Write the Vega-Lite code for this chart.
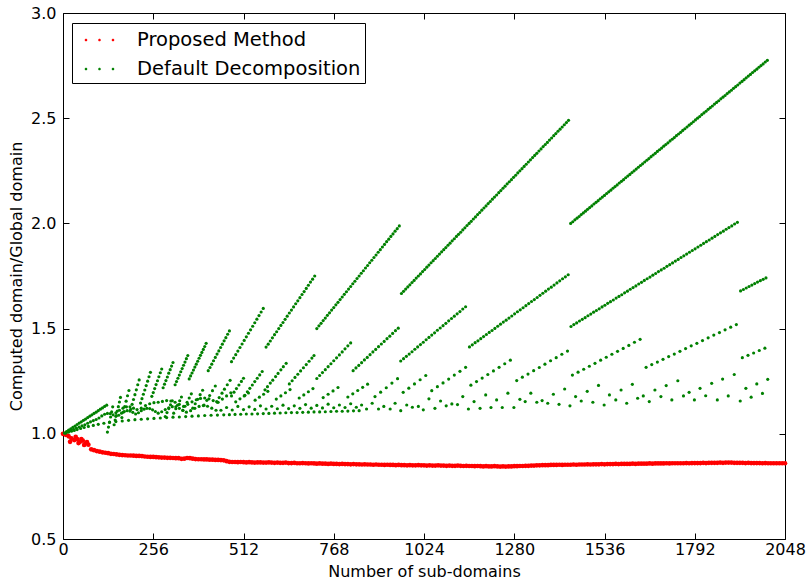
{
"$schema":"https://vega.github.io/schema/vega-lite/v6.json",
"width":722,"height":526,
"autosize":{"type":"none"},
"padding":{"left":63,"top":13,"right":23,"bottom":44},
"background":"white",
"config":{
"view":{"stroke":"black","strokeWidth":1},
"font":"DejaVu Sans",
"axis":{"labelFont":"DejaVu Sans","titleFont":"DejaVu Sans","labelFontSize":16,"titleFontSize":16,"titleFontWeight":"normal","labelColor":"black","titleColor":"black","tickColor":"black","tickSize":-6,"tickWidth":1,"domain":false,"grid":false,"labelFlush":false}
},
"datasets":{
"r":[{"n":0,"v":1.0},{"n":8,"v":0.995},{"n":16,"v":0.988},{"n":20,"v":0.962},{"n":24,"v":0.978},{"n":32,"v":0.97},{"n":36,"v":0.985},{"n":40,"v":0.975},{"n":44,"v":0.956},{"n":48,"v":0.962},{"n":52,"v":0.975},{"n":56,"v":0.968},{"n":60,"v":0.947},{"n":64,"v":0.955},{"n":68,"v":0.96},{"n":72,"v":0.948},{"n":80,"v":0.926},{"n":88,"v":0.922},{"n":96,"v":0.918},{"n":104,"v":0.915},{"n":112,"v":0.912},{"n":120,"v":0.91},{"n":128,"v":0.908},{"n":136,"v":0.905},{"n":144,"v":0.904},{"n":152,"v":0.902},{"n":160,"v":0.9},{"n":168,"v":0.899},{"n":176,"v":0.898},{"n":184,"v":0.897},{"n":192,"v":0.897},{"n":200,"v":0.896},{"n":208,"v":0.895},{"n":216,"v":0.895},{"n":224,"v":0.894},{"n":232,"v":0.892},{"n":240,"v":0.891},{"n":248,"v":0.89},{"n":256,"v":0.89},{"n":264,"v":0.889},{"n":272,"v":0.888},{"n":280,"v":0.887},{"n":288,"v":0.887},{"n":296,"v":0.886},{"n":304,"v":0.886},{"n":312,"v":0.885},{"n":320,"v":0.884},{"n":328,"v":0.884},{"n":336,"v":0.881},{"n":344,"v":0.882},{"n":352,"v":0.885},{"n":360,"v":0.884},{"n":368,"v":0.882},{"n":376,"v":0.88},{"n":384,"v":0.879},{"n":392,"v":0.879},{"n":400,"v":0.878},{"n":408,"v":0.878},{"n":416,"v":0.877},{"n":424,"v":0.877},{"n":432,"v":0.876},{"n":440,"v":0.876},{"n":448,"v":0.875},{"n":456,"v":0.874},{"n":464,"v":0.87},{"n":472,"v":0.867},
{"n":480,"v":0.866},{"n":488,"v":0.866},{"n":496,"v":0.865},{"n":504,"v":0.866},{"n":512,"v":0.865},{"n":520,"v":0.864},{"n":528,"v":0.865},{"n":536,"v":0.864},{"n":544,"v":0.863},{"n":552,"v":0.864},{"n":560,"v":0.864},{"n":568,"v":0.863},{"n":576,"v":0.863},{"n":584,"v":0.864},{"n":592,"v":0.863},{"n":600,"v":0.862},{"n":608,"v":0.863},{"n":616,"v":0.862},{"n":624,"v":0.862},{"n":632,"v":0.863},{"n":640,"v":0.861},{"n":648,"v":0.861},{"n":656,"v":0.862},{"n":664,"v":0.86},{"n":672,"v":0.86},{"n":680,"v":0.861},{"n":688,"v":0.86},{"n":696,"v":0.859},{"n":704,"v":0.86},{"n":712,"v":0.859},{"n":720,"v":0.858},{"n":728,"v":0.859},{"n":736,"v":0.858},{"n":744,"v":0.858},{"n":752,"v":0.857},{"n":760,"v":0.858},{"n":768,"v":0.857},{"n":776,"v":0.857},{"n":784,"v":0.856},{"n":792,"v":0.857},{"n":800,"v":0.856},{"n":808,"v":0.856},{"n":816,"v":0.855},{"n":824,"v":0.856},{"n":832,"v":0.855},{"n":840,"v":0.855},{"n":848,"v":0.854},{"n":856,"v":0.855},{"n":864,"v":0.854},{"n":872,"v":0.854},{"n":880,"v":0.853},{"n":888,"v":0.854},{"n":896,"v":0.853},{"n":904,"v":0.853},{"n":912,"v":0.852},{"n":920,"v":0.853},{"n":928,"v":0.852},{"n":936,"v":0.852},{"n":944,"v":0.851},{"n":952,"v":0.852},{"n":960,"v":0.851},{"n":968,"v":0.851},{"n":976,"v":0.85},{"n":984,"v":0.851},{"n":992,"v":0.85},{"n":1000,"v":0.85},{"n":1008,"v":0.851},{"n":1016,"v":0.85},{"n":1024,"v":0.85},{"n":1032,"v":0.849},{"n":1040,"v":0.85},{"n":1048,"v":0.849},{"n":1056,"v":0.849},{"n":1064,"v":0.85},{"n":1072,"v":0.849},{"n":1080,"v":0.849},{"n":1088,"v":0.848},{"n":1096,"v":0.849},{"n":1104,"v":0.848},{"n":1112,"v":0.848},{"n":1120,"v":0.849},{"n":1128,"v":0.848},{"n":1136,"v":0.847},{"n":1144,"v":0.848},{"n":1152,"v":0.847},{"n":1160,"v":0.847},{"n":1168,"v":0.846},{"n":1176,"v":0.847},{"n":1184,"v":0.846},{"n":1192,"v":0.845},{"n":1200,"v":0.846},{"n":1208,"v":0.845},{"n":1216,"v":0.845},{"n":1224,"v":0.846},{"n":1232,"v":0.845},{"n":1240,"v":0.844},{"n":1248,"v":0.845},{"n":1256,"v":0.844},{"n":1264,"v":0.845},{"n":1272,"v":0.845},{"n":1280,"v":0.846},{"n":1288,"v":0.846},{"n":1296,"v":0.847},{"n":1304,"v":0.847},{"n":1312,"v":0.848},{"n":1320,"v":0.848},{"n":1328,"v":0.849},{"n":1336,"v":0.849},{"n":1344,"v":0.85},{"n":1352,"v":0.85},{"n":1360,"v":0.851},{"n":1368,"v":0.851},{"n":1376,"v":0.851},{"n":1384,"v":0.852},{"n":1392,"v":0.852},{"n":1400,"v":0.852},{"n":1408,"v":0.853},{"n":1416,"v":0.852},{"n":1424,"v":0.853},{"n":1432,"v":0.853},{"n":1440,"v":0.853},{"n":1448,"v":0.854},{"n":1456,"v":0.853},{"n":1464,"v":0.854},{"n":1472,"v":0.854},{"n":1480,"v":0.854},{"n":1488,"v":0.855},{"n":1496,"v":0.854},{"n":1504,"v":0.855},{"n":1512,"v":0.855},{"n":1520,"v":0.855},{"n":1528,"v":0.856},{"n":1536,"v":0.855},{"n":1544,"v":0.856},{"n":1552,"v":0.856},{"n":1560,"v":0.856},{"n":1568,"v":0.857},{"n":1576,"v":0.856},{"n":1584,"v":0.857},{"n":1592,"v":0.857},{"n":1600,"v":0.857},{"n":1608,"v":0.857},{"n":1616,"v":0.858},{"n":1624,"v":0.857},{"n":1632,"v":0.858},{"n":1640,"v":0.858},{"n":1648,"v":0.858},{"n":1656,"v":0.858},{"n":1664,"v":0.859},{"n":1672,"v":0.858},{"n":1680,"v":0.859},{"n":1688,"v":0.859},{"n":1696,"v":0.859},{"n":1704,"v":0.859},{"n":1712,"v":0.86},{"n":1720,"v":0.859},{"n":1728,"v":0.86},{"n":1736,"v":0.86},{"n":1744,"v":0.86},{"n":1752,"v":0.86},{"n":1760,"v":0.86},{"n":1768,"v":0.861},{"n":1776,"v":0.86},{"n":1784,"v":0.861},{"n":1792,"v":0.861},{"n":1800,"v":0.861},{"n":1808,"v":0.861},{"n":1816,"v":0.862},{"n":1824,"v":0.861},{"n":1832,"v":0.862},{"n":1840,"v":0.862},{"n":1848,"v":0.862},{"n":1856,"v":0.862},{"n":1864,"v":0.863},{"n":1872,"v":0.862},{"n":1880,"v":0.863},{"n":1888,"v":0.863},{"n":1896,"v":0.863},{"n":1904,"v":0.862},{"n":1912,"v":0.862},{"n":1920,"v":0.862},{"n":1928,"v":0.862},{"n":1936,"v":0.861},{"n":1944,"v":0.862},{"n":1952,"v":0.861},{"n":1960,"v":0.861},{"n":1968,"v":0.861},{"n":1976,"v":0.861},{"n":1984,"v":0.86},{"n":1992,"v":0.861},{"n":2000,"v":0.86},{"n":2008,"v":0.86},{"n":2016,"v":0.86},{"n":2024,"v":0.86},{"n":2032,"v":0.86},{"n":2040,"v":0.86},{"n":2048,"v":0.86}],
"g":[
{"n":4,"v":1.004},{"n":10,"v":1.011},{"n":16,"v":1.018},{"n":22,"v":1.024},{"n":28,"v":1.031},{"n":34,"v":1.037},{"n":40,"v":1.044},{"n":46,"v":1.051},{"n":52,"v":1.057},{"n":58,"v":1.064},{"n":64,"v":1.07},{"n":70,"v":1.077},{"n":76,"v":1.084},{"n":82,"v":1.09},{"n":88,"v":1.097},{"n":94,"v":1.103},{"n":100,"v":1.11},{"n":106,"v":1.117},{"n":112,"v":1.123},{"n":118,"v":1.13},{"n":124,"v":1.136},
{"n":6,"v":1.004},{"n":14,"v":1.01},{"n":22,"v":1.016},{"n":30,"v":1.021},{"n":38,"v":1.027},{"n":46,"v":1.032},{"n":54,"v":1.038},{"n":62,"v":1.043},{"n":70,"v":1.05},{"n":78,"v":1.057},{"n":86,"v":1.063},{"n":94,"v":1.068},{"n":102,"v":1.075},{"n":110,"v":1.085},{"n":118,"v":1.093},{"n":126,"v":1.097},{"n":134,"v":1.096},{"n":142,"v":1.09},{"n":150,"v":1.083},{"n":158,"v":1.088},{"n":166,"v":1.098},{"n":174,"v":1.106},{"n":182,"v":1.11},{"n":190,"v":1.108},{"n":198,"v":1.102},{"n":206,"v":1.094},{"n":214,"v":1.1},{"n":222,"v":1.11},{"n":230,"v":1.117},{"n":238,"v":1.121},{"n":246,"v":1.12},{"n":254,"v":1.114},{"n":262,"v":1.106},{"n":270,"v":1.098},{"n":280,"v":1.105},{"n":290,"v":1.115},{"n":300,"v":1.124},{"n":310,"v":1.129},{"n":320,"v":1.128},{"n":330,"v":1.121},{"n":340,"v":1.112},{"n":350,"v":1.103},{"n":362,"v":1.11},{"n":374,"v":1.121},{"n":386,"v":1.13},{"n":398,"v":1.134},{"n":410,"v":1.131},{"n":422,"v":1.122},{"n":434,"v":1.112},
{"n":150,"v":1.1},{"n":160,"v":1.112},{"n":170,"v":1.122},{"n":180,"v":1.128},{"n":190,"v":1.128},{"n":200,"v":1.122},{"n":210,"v":1.115},{"n":222,"v":1.122},{"n":234,"v":1.134},{"n":246,"v":1.143},{"n":258,"v":1.148},{"n":270,"v":1.15},{"n":282,"v":1.154},{"n":294,"v":1.158},{"n":306,"v":1.156},{"n":318,"v":1.15},{"n":330,"v":1.14},{"n":342,"v":1.13},{"n":354,"v":1.14},{"n":366,"v":1.152},{"n":378,"v":1.162},{"n":390,"v":1.168},{"n":402,"v":1.17},{"n":414,"v":1.166},{"n":426,"v":1.158},{"n":438,"v":1.15},
{"n":8,"v":1.004},{"n":16,"v":1.008},{"n":24,"v":1.012},{"n":32,"v":1.016},{"n":40,"v":1.02},{"n":50,"v":1.025},{"n":60,"v":1.03},{"n":72,"v":1.035},{"n":86,"v":1.04},{"n":100,"v":1.045},{"n":116,"v":1.05},{"n":132,"v":1.054},{"n":150,"v":1.058},{"n":168,"v":1.061},{"n":186,"v":1.064},{"n":204,"v":1.067},{"n":222,"v":1.069},{"n":240,"v":1.071},{"n":258,"v":1.073},{"n":276,"v":1.075},{"n":294,"v":1.077},{"n":312,"v":1.079},{"n":330,"v":1.08},{"n":348,"v":1.082},{"n":366,"v":1.084},{"n":384,"v":1.085},{"n":402,"v":1.087},{"n":420,"v":1.088},{"n":438,"v":1.089},{"n":456,"v":1.09},{"n":472,"v":1.091},{"n":488,"v":1.092},{"n":504,"v":1.093},{"n":520,"v":1.094},{"n":536,"v":1.094},{"n":552,"v":1.095},{"n":568,"v":1.096},{"n":584,"v":1.097},{"n":600,"v":1.098},{"n":616,"v":1.099},{"n":632,"v":1.1},{"n":648,"v":1.101},{"n":664,"v":1.101},{"n":680,"v":1.102},{"n":696,"v":1.103},{"n":712,"v":1.104},{"n":728,"v":1.104},{"n":744,"v":1.105},{"n":760,"v":1.106},{"n":776,"v":1.107},{"n":792,"v":1.107},{"n":808,"v":1.108},{"n":824,"v":1.109},{"n":840,"v":1.11},
{"n":126,"v":1.008},{"n":129,"v":1.032},{"n":132,"v":1.056},{"n":135,"v":1.08},{"n":138,"v":1.104},{"n":141,"v":1.128},
{"n":145,"v":1.043},{"n":148,"v":1.065},{"n":151,"v":1.086},{"n":154,"v":1.108},{"n":157,"v":1.129},{"n":160,"v":1.151},{"n":163,"v":1.173},
{"n":167,"v":1.077},{"n":171,"v":1.103},{"n":175,"v":1.129},{"n":179,"v":1.155},{"n":183,"v":1.181},{"n":187,"v":1.206},
{"n":192,"v":1.116},{"n":196,"v":1.14},{"n":200,"v":1.163},{"n":204,"v":1.186},{"n":208,"v":1.209},{"n":212,"v":1.233},{"n":216,"v":1.256},
{"n":220,"v":1.146},{"n":224,"v":1.167},{"n":228,"v":1.188},{"n":232,"v":1.208},{"n":236,"v":1.229},{"n":240,"v":1.25},{"n":244,"v":1.271},{"n":248,"v":1.292},
{"n":252,"v":1.178},{"n":256,"v":1.196},{"n":260,"v":1.215},{"n":264,"v":1.234},{"n":268,"v":1.252},{"n":272,"v":1.271},{"n":276,"v":1.29},{"n":280,"v":1.308},
{"n":284,"v":1.219},{"n":288,"v":1.236},{"n":292,"v":1.253},{"n":296,"v":1.27},{"n":300,"v":1.288},{"n":304,"v":1.305},{"n":308,"v":1.322},{"n":312,"v":1.339},
{"n":318,"v":1.233},{"n":322,"v":1.248},{"n":326,"v":1.264},{"n":330,"v":1.279},{"n":334,"v":1.295},{"n":338,"v":1.31},{"n":342,"v":1.326},{"n":346,"v":1.341},{"n":350,"v":1.357},{"n":354,"v":1.372},
{"n":358,"v":1.261},{"n":362,"v":1.275},{"n":366,"v":1.289},{"n":370,"v":1.303},{"n":374,"v":1.317},{"n":378,"v":1.331},{"n":382,"v":1.345},{"n":386,"v":1.359},{"n":390,"v":1.373},{"n":394,"v":1.387},{"n":398,"v":1.401},{"n":402,"v":1.415},{"n":406,"v":1.43},
{"n":412,"v":1.3},{"n":417,"v":1.315},{"n":422,"v":1.331},{"n":427,"v":1.347},{"n":432,"v":1.363},{"n":437,"v":1.379},{"n":442,"v":1.394},{"n":447,"v":1.41},{"n":452,"v":1.426},{"n":457,"v":1.442},{"n":462,"v":1.457},{"n":467,"v":1.473},{"n":472,"v":1.489},
{"n":478,"v":1.343},{"n":484,"v":1.36},{"n":490,"v":1.376},{"n":496,"v":1.393},{"n":502,"v":1.41},{"n":508,"v":1.427},{"n":514,"v":1.444},{"n":520,"v":1.461},{"n":526,"v":1.478},{"n":532,"v":1.494},{"n":538,"v":1.511},{"n":544,"v":1.528},{"n":550,"v":1.545},{"n":556,"v":1.562},{"n":562,"v":1.579},{"n":568,"v":1.596},
{"n":576,"v":1.412},{"n":582,"v":1.426},{"n":588,"v":1.441},{"n":594,"v":1.456},{"n":600,"v":1.471},{"n":606,"v":1.485},{"n":612,"v":1.5},{"n":618,"v":1.515},{"n":624,"v":1.529},{"n":630,"v":1.544},{"n":636,"v":1.559},{"n":642,"v":1.574},{"n":648,"v":1.588},{"n":654,"v":1.603},{"n":660,"v":1.618},{"n":666,"v":1.632},{"n":672,"v":1.647},{"n":678,"v":1.662},{"n":684,"v":1.676},{"n":690,"v":1.691},{"n":696,"v":1.706},{"n":702,"v":1.721},{"n":708,"v":1.735},{"n":714,"v":1.75},
{"n":720,"v":1.5},{"n":726,"v":1.513},{"n":732,"v":1.525},{"n":738,"v":1.538},{"n":744,"v":1.55},{"n":750,"v":1.563},{"n":756,"v":1.575},{"n":762,"v":1.588},{"n":768,"v":1.6},{"n":774,"v":1.613},{"n":780,"v":1.625},{"n":786,"v":1.638},{"n":792,"v":1.65},{"n":798,"v":1.663},{"n":804,"v":1.675},{"n":810,"v":1.688},{"n":816,"v":1.7},{"n":822,"v":1.713},{"n":828,"v":1.725},{"n":834,"v":1.738},{"n":840,"v":1.75},{"n":846,"v":1.763},{"n":852,"v":1.775},{"n":858,"v":1.788},{"n":864,"v":1.8},{"n":870,"v":1.813},{"n":876,"v":1.825},{"n":882,"v":1.838},{"n":888,"v":1.85},{"n":894,"v":1.863},{"n":900,"v":1.875},{"n":906,"v":1.888},{"n":912,"v":1.9},{"n":918,"v":1.913},{"n":924,"v":1.925},{"n":930,"v":1.938},{"n":936,"v":1.95},{"n":942,"v":1.963},{"n":948,"v":1.975},{"n":954,"v":1.988},
{"n":960,"v":1.667},{"n":966,"v":1.677},{"n":972,"v":1.688},{"n":978,"v":1.698},{"n":984,"v":1.708},{"n":990,"v":1.719},{"n":996,"v":1.729},{"n":1002,"v":1.74},{"n":1008,"v":1.75},{"n":1014,"v":1.76},{"n":1020,"v":1.771},{"n":1026,"v":1.781},{"n":1032,"v":1.792},{"n":1038,"v":1.802},{"n":1044,"v":1.813},{"n":1050,"v":1.823},
{"n":1056,"v":1.833},{"n":1062,"v":1.844},{"n":1068,"v":1.854},{"n":1074,"v":1.865},{"n":1080,"v":1.875},{"n":1086,"v":1.885},{"n":1092,"v":1.896},{"n":1098,"v":1.906},{"n":1104,"v":1.917},{"n":1110,"v":1.927},{"n":1116,"v":1.938},{"n":1122,"v":1.948},{"n":1128,"v":1.958},{"n":1134,"v":1.969},{"n":1140,"v":1.979},{"n":1146,"v":1.99},
{"n":1152,"v":2.0},{"n":1158,"v":2.01},{"n":1164,"v":2.021},{"n":1170,"v":2.031},{"n":1176,"v":2.042},{"n":1182,"v":2.052},{"n":1188,"v":2.063},{"n":1194,"v":2.073},{"n":1200,"v":2.083},{"n":1206,"v":2.094},{"n":1212,"v":2.104},{"n":1218,"v":2.115},{"n":1224,"v":2.125},{"n":1230,"v":2.135},{"n":1236,"v":2.146},{"n":1242,"v":2.156},
{"n":1248,"v":2.167},{"n":1254,"v":2.177},{"n":1260,"v":2.188},{"n":1266,"v":2.198},{"n":1272,"v":2.208},{"n":1278,"v":2.219},{"n":1284,"v":2.229},{"n":1290,"v":2.24},{"n":1296,"v":2.25},{"n":1302,"v":2.26},{"n":1308,"v":2.271},{"n":1314,"v":2.281},{"n":1320,"v":2.292},{"n":1326,"v":2.302},{"n":1332,"v":2.313},{"n":1338,"v":2.323},
{"n":1344,"v":2.333},{"n":1350,"v":2.344},{"n":1356,"v":2.354},{"n":1362,"v":2.365},{"n":1368,"v":2.375},{"n":1374,"v":2.385},{"n":1380,"v":2.396},{"n":1386,"v":2.406},{"n":1392,"v":2.417},{"n":1398,"v":2.427},{"n":1404,"v":2.438},{"n":1410,"v":2.448},{"n":1416,"v":2.458},{"n":1422,"v":2.469},{"n":1428,"v":2.479},{"n":1434,"v":2.49},
{"n":1440,"v":2.0},{"n":1446,"v":2.008},{"n":1452,"v":2.017},{"n":1458,"v":2.025},{"n":1464,"v":2.033},{"n":1470,"v":2.042},{"n":1476,"v":2.05},{"n":1482,"v":2.058},{"n":1488,"v":2.067},{"n":1494,"v":2.075},{"n":1500,"v":2.083},{"n":1506,"v":2.092},
{"n":1512,"v":2.1},{"n":1518,"v":2.108},{"n":1524,"v":2.117},{"n":1530,"v":2.125},{"n":1536,"v":2.133},{"n":1542,"v":2.142},{"n":1548,"v":2.15},{"n":1554,"v":2.158},{"n":1560,"v":2.167},{"n":1566,"v":2.175},{"n":1572,"v":2.183},{"n":1578,"v":2.192},
{"n":1584,"v":2.2},{"n":1590,"v":2.208},{"n":1596,"v":2.217},{"n":1602,"v":2.225},{"n":1608,"v":2.233},{"n":1614,"v":2.242},{"n":1620,"v":2.25},{"n":1626,"v":2.258},{"n":1632,"v":2.267},{"n":1638,"v":2.275},{"n":1644,"v":2.283},{"n":1650,"v":2.292},
{"n":1656,"v":2.3},{"n":1662,"v":2.308},{"n":1668,"v":2.317},{"n":1674,"v":2.325},{"n":1680,"v":2.333},{"n":1686,"v":2.342},{"n":1692,"v":2.35},{"n":1698,"v":2.358},{"n":1704,"v":2.367},{"n":1710,"v":2.375},{"n":1716,"v":2.383},{"n":1722,"v":2.392},
{"n":1728,"v":2.4},{"n":1734,"v":2.408},{"n":1740,"v":2.417},{"n":1746,"v":2.425},{"n":1752,"v":2.433},{"n":1758,"v":2.442},{"n":1764,"v":2.45},{"n":1770,"v":2.458},{"n":1776,"v":2.467},{"n":1782,"v":2.475},{"n":1788,"v":2.483},{"n":1794,"v":2.492},
{"n":1800,"v":2.5},{"n":1806,"v":2.508},{"n":1812,"v":2.517},{"n":1818,"v":2.525},{"n":1824,"v":2.533},{"n":1830,"v":2.542},{"n":1836,"v":2.55},{"n":1842,"v":2.558},{"n":1848,"v":2.567},{"n":1854,"v":2.575},{"n":1860,"v":2.583},{"n":1866,"v":2.592},
{"n":1872,"v":2.6},{"n":1878,"v":2.608},{"n":1884,"v":2.617},{"n":1890,"v":2.625},{"n":1896,"v":2.633},{"n":1902,"v":2.642},{"n":1908,"v":2.65},{"n":1914,"v":2.658},{"n":1920,"v":2.667},{"n":1926,"v":2.675},{"n":1932,"v":2.683},{"n":1938,"v":2.692},
{"n":1944,"v":2.7},{"n":1950,"v":2.708},{"n":1956,"v":2.717},{"n":1962,"v":2.725},{"n":1968,"v":2.733},{"n":1974,"v":2.742},{"n":1980,"v":2.75},{"n":1986,"v":2.758},{"n":1992,"v":2.767},{"n":1998,"v":2.775},
{"n":290,"v":1.082},{"n":295,"v":1.101},{"n":300,"v":1.12},{"n":305,"v":1.138},{"n":310,"v":1.157},
{"n":314,"v":1.098},{"n":320,"v":1.119},{"n":325,"v":1.136},{"n":331,"v":1.157},{"n":336,"v":1.175},
{"n":340,"v":1.111},{"n":346,"v":1.131},{"n":352,"v":1.15},{"n":358,"v":1.17},{"n":364,"v":1.19},
{"n":368,"v":1.122},{"n":375,"v":1.143},{"n":382,"v":1.164},{"n":389,"v":1.186},{"n":396,"v":1.207},
{"n":400,"v":1.136},{"n":408,"v":1.159},{"n":416,"v":1.182},{"n":424,"v":1.205},{"n":432,"v":1.227},
{"n":436,"v":1.153},{"n":443,"v":1.172},{"n":451,"v":1.193},{"n":458,"v":1.212},{"n":466,"v":1.233},{"n":474,"v":1.254},
{"n":478,"v":1.18},{"n":485,"v":1.198},{"n":492,"v":1.215},{"n":499,"v":1.232},{"n":506,"v":1.249},{"n":512,"v":1.264},
{"n":516,"v":1.183},{"n":523,"v":1.2},{"n":530,"v":1.216},{"n":537,"v":1.232},{"n":544,"v":1.248},{"n":551,"v":1.264},{"n":558,"v":1.28},{"n":565,"v":1.296},
{"n":573,"v":1.209},{"n":580,"v":1.224},{"n":588,"v":1.241},{"n":595,"v":1.255},{"n":603,"v":1.272},{"n":610,"v":1.287},{"n":618,"v":1.304},{"n":625,"v":1.319},{"n":633,"v":1.335},
{"n":642,"v":1.237},{"n":650,"v":1.252},{"n":658,"v":1.268},{"n":666,"v":1.283},{"n":674,"v":1.299},{"n":682,"v":1.314},{"n":690,"v":1.329},{"n":698,"v":1.345},{"n":706,"v":1.36},{"n":712,"v":1.372},
{"n":720,"v":1.263},{"n":728,"v":1.277},{"n":736,"v":1.291},{"n":744,"v":1.305},{"n":752,"v":1.319},{"n":760,"v":1.333},{"n":768,"v":1.347},{"n":776,"v":1.361},{"n":784,"v":1.375},{"n":792,"v":1.389},{"n":800,"v":1.404},{"n":808,"v":1.418},{"n":816,"v":1.432},
{"n":823,"v":1.3},{"n":831,"v":1.313},{"n":839,"v":1.325},{"n":847,"v":1.338},{"n":855,"v":1.351},{"n":863,"v":1.363},{"n":871,"v":1.376},{"n":879,"v":1.389},{"n":887,"v":1.401},{"n":895,"v":1.414},{"n":903,"v":1.427},{"n":911,"v":1.439},{"n":919,"v":1.452},{"n":927,"v":1.464},{"n":935,"v":1.477},{"n":943,"v":1.49},{"n":951,"v":1.502},
{"n":958,"v":1.346},{"n":966,"v":1.357},{"n":974,"v":1.368},{"n":982,"v":1.379},{"n":990,"v":1.39},{"n":998,"v":1.402},{"n":1006,"v":1.413},{"n":1014,"v":1.424},{"n":1022,"v":1.435},{"n":1030,"v":1.447},{"n":1038,"v":1.458},{"n":1046,"v":1.469},{"n":1054,"v":1.48},{"n":1062,"v":1.492},{"n":1070,"v":1.503},{"n":1078,"v":1.514},{"n":1086,"v":1.525},{"n":1094,"v":1.537},{"n":1102,"v":1.548},{"n":1110,"v":1.559},{"n":1118,"v":1.57},{"n":1126,"v":1.581},{"n":1134,"v":1.593},{"n":1142,"v":1.604},
{"n":1153,"v":1.413},{"n":1161,"v":1.423},{"n":1169,"v":1.433},{"n":1177,"v":1.442},{"n":1185,"v":1.452},{"n":1193,"v":1.462},{"n":1201,"v":1.472},{"n":1209,"v":1.482},{"n":1217,"v":1.491},{"n":1225,"v":1.501},{"n":1233,"v":1.511},{"n":1241,"v":1.521},{"n":1249,"v":1.531},{"n":1257,"v":1.54},{"n":1265,"v":1.55},{"n":1273,"v":1.56},{"n":1281,"v":1.57},{"n":1289,"v":1.58},{"n":1297,"v":1.589},{"n":1305,"v":1.599},{"n":1313,"v":1.609},{"n":1321,"v":1.619},{"n":1329,"v":1.629},{"n":1337,"v":1.638},{"n":1345,"v":1.648},{"n":1353,"v":1.658},{"n":1361,"v":1.668},{"n":1369,"v":1.678},{"n":1377,"v":1.688},{"n":1385,"v":1.697},{"n":1393,"v":1.707},{"n":1401,"v":1.717},{"n":1409,"v":1.727},{"n":1417,"v":1.737},{"n":1425,"v":1.746},{"n":1433,"v":1.756},
{"n":1441,"v":1.51},{"n":1449,"v":1.519},{"n":1457,"v":1.527},{"n":1465,"v":1.536},{"n":1473,"v":1.544},{"n":1481,"v":1.552},{"n":1489,"v":1.561},{"n":1497,"v":1.569},{"n":1505,"v":1.578},{"n":1513,"v":1.586},{"n":1521,"v":1.594},{"n":1529,"v":1.603},{"n":1537,"v":1.611},{"n":1545,"v":1.62},{"n":1553,"v":1.628},{"n":1561,"v":1.636},{"n":1569,"v":1.645},{"n":1577,"v":1.653},{"n":1585,"v":1.661},{"n":1593,"v":1.67},{"n":1601,"v":1.678},{"n":1609,"v":1.687},{"n":1617,"v":1.695},{"n":1625,"v":1.703},{"n":1633,"v":1.712},{"n":1641,"v":1.72},{"n":1649,"v":1.729},{"n":1657,"v":1.737},{"n":1665,"v":1.745},{"n":1673,"v":1.754},{"n":1681,"v":1.762},{"n":1689,"v":1.771},{"n":1697,"v":1.779},{"n":1705,"v":1.787},{"n":1713,"v":1.796},{"n":1721,"v":1.804},{"n":1729,"v":1.812},{"n":1737,"v":1.821},{"n":1745,"v":1.829},{"n":1753,"v":1.838},{"n":1761,"v":1.846},{"n":1769,"v":1.854},{"n":1777,"v":1.863},{"n":1785,"v":1.871},{"n":1793,"v":1.879},{"n":1801,"v":1.888},{"n":1809,"v":1.896},{"n":1817,"v":1.905},{"n":1825,"v":1.913},{"n":1833,"v":1.921},{"n":1841,"v":1.93},{"n":1849,"v":1.938},{"n":1857,"v":1.947},{"n":1865,"v":1.955},{"n":1873,"v":1.963},{"n":1881,"v":1.972},{"n":1889,"v":1.98},{"n":1897,"v":1.988},{"n":1905,"v":1.997},{"n":1913,"v":2.005},
{"n":1922,"v":1.679},{"n":1930,"v":1.686},{"n":1938,"v":1.693},{"n":1946,"v":1.7},{"n":1954,"v":1.707},{"n":1962,"v":1.714},{"n":1970,"v":1.721},{"n":1978,"v":1.728},{"n":1986,"v":1.734},{"n":1994,"v":1.741},
{"n":440,"v":1.15},{"n":452,"v":1.165},{"n":464,"v":1.18},{"n":476,"v":1.195},
{"n":490,"v":1.152},{"n":502,"v":1.166},{"n":514,"v":1.18},{"n":526,"v":1.194},
{"n":545,"v":1.16},{"n":557,"v":1.174},{"n":569,"v":1.188},{"n":581,"v":1.202},
{"n":605,"v":1.165},{"n":618,"v":1.18},{"n":631,"v":1.195},{"n":644,"v":1.21},
{"n":670,"v":1.17},{"n":683,"v":1.185},{"n":696,"v":1.2},{"n":709,"v":1.215},
{"n":738,"v":1.172},{"n":752,"v":1.188},{"n":766,"v":1.204},{"n":780,"v":1.22},
{"n":808,"v":1.175},{"n":822,"v":1.19},{"n":836,"v":1.206},{"n":850,"v":1.221},{"n":864,"v":1.236},
{"n":885,"v":1.177},{"n":901,"v":1.198},{"n":917,"v":1.219},{"n":933,"v":1.241},{"n":949,"v":1.262},
{"n":965,"v":1.197},{"n":981,"v":1.217},{"n":997,"v":1.237},{"n":1013,"v":1.257},{"n":1029,"v":1.277},
{"n":1046,"v":1.205},{"n":1062,"v":1.224},{"n":1078,"v":1.242},{"n":1094,"v":1.26},{"n":1110,"v":1.279},{"n":1126,"v":1.297},{"n":1142,"v":1.316},
{"n":1157,"v":1.231},{"n":1173,"v":1.248},{"n":1189,"v":1.265},{"n":1205,"v":1.282},{"n":1221,"v":1.299},{"n":1237,"v":1.316},{"n":1253,"v":1.333},{"n":1269,"v":1.35},
{"n":1287,"v":1.253},{"n":1303,"v":1.269},{"n":1319,"v":1.284},{"n":1335,"v":1.3},{"n":1351,"v":1.315},{"n":1367,"v":1.331},{"n":1383,"v":1.347},{"n":1399,"v":1.362},{"n":1415,"v":1.378},{"n":1431,"v":1.393},
{"n":1445,"v":1.279},{"n":1461,"v":1.293},{"n":1477,"v":1.307},{"n":1493,"v":1.321},{"n":1509,"v":1.335},{"n":1525,"v":1.35},{"n":1541,"v":1.364},{"n":1557,"v":1.378},{"n":1573,"v":1.392},{"n":1589,"v":1.406},{"n":1605,"v":1.42},{"n":1621,"v":1.435},{"n":1637,"v":1.449},
{"n":1654,"v":1.316},{"n":1670,"v":1.329},{"n":1686,"v":1.341},{"n":1702,"v":1.354},{"n":1718,"v":1.367},{"n":1734,"v":1.379},{"n":1750,"v":1.392},{"n":1766,"v":1.405},{"n":1782,"v":1.418},{"n":1798,"v":1.43},{"n":1814,"v":1.443},{"n":1830,"v":1.456},{"n":1846,"v":1.469},{"n":1862,"v":1.481},{"n":1878,"v":1.494},{"n":1894,"v":1.507},{"n":1910,"v":1.519},
{"n":1927,"v":1.362},{"n":1943,"v":1.373},{"n":1959,"v":1.384},{"n":1975,"v":1.396},{"n":1991,"v":1.407},
{"n":448,"v":1.112},{"n":464,"v":1.125},{"n":480,"v":1.113},{"n":496,"v":1.13},{"n":512,"v":1.115},{"n":528,"v":1.128},{"n":544,"v":1.116},{"n":560,"v":1.133},{"n":576,"v":1.118},{"n":592,"v":1.131},{"n":608,"v":1.119},{"n":624,"v":1.136},{"n":640,"v":1.12},{"n":656,"v":1.133},{"n":672,"v":1.121},{"n":688,"v":1.139},{"n":704,"v":1.122},{"n":720,"v":1.135},{"n":736,"v":1.123},{"n":752,"v":1.141},{"n":768,"v":1.124},{"n":784,"v":1.137},{"n":800,"v":1.125},{"n":816,"v":1.143},{"n":832,"v":1.126},
{"n":847,"v":1.137},{"n":861,"v":1.118},{"n":877,"v":1.145},{"n":895,"v":1.118},{"n":910,"v":1.13},{"n":928,"v":1.118},{"n":942,"v":1.145},{"n":958,"v":1.11},{"n":975,"v":1.137},{"n":991,"v":1.126},{"n":1008,"v":1.13},{"n":1022,"v":1.114},{"n":1038,"v":1.166},{"n":1055,"v":1.121},{"n":1071,"v":1.156},{"n":1087,"v":1.133},{"n":1103,"v":1.142},{"n":1119,"v":1.139},{"n":1134,"v":1.177},{"n":1150,"v":1.118},{"n":1166,"v":1.153},{"n":1183,"v":1.121},{"n":1199,"v":1.185},{"n":1214,"v":1.125},{"n":1230,"v":1.161},{"n":1246,"v":1.125},{"n":1262,"v":1.193},{"n":1279,"v":1.125},{"n":1296,"v":1.164},{"n":1311,"v":1.153},{"n":1327,"v":1.193},{"n":1344,"v":1.15},{"n":1359,"v":1.158},{"n":1375,"v":1.145},{"n":1391,"v":1.188},{"n":1407,"v":1.14},{"n":1423,"v":1.213},{"n":1438,"v":1.133},{"n":1454,"v":1.177},{"n":1470,"v":1.156},{"n":1487,"v":1.202},{"n":1503,"v":1.15},{"n":1519,"v":1.23},{"n":1535,"v":1.137},{"n":1550,"v":1.185},{"n":1568,"v":1.161},{"n":1583,"v":1.208},{"n":1599,"v":1.145},{"n":1615,"v":1.235},{"n":1630,"v":1.169},{"n":1646,"v":1.18},{"n":1663,"v":1.153},{"n":1679,"v":1.208},{"n":1696,"v":1.177},{"n":1711,"v":1.229},{"n":1727,"v":1.161},{"n":1744,"v":1.252},{"n":1760,"v":1.18},{"n":1776,"v":1.197},{"n":1791,"v":1.161},{"n":1807,"v":1.216},{"n":1823,"v":1.181},{"n":1840,"v":1.24},{"n":1856,"v":1.161},{"n":1871,"v":1.26},{"n":1887,"v":1.18},{"n":1904,"v":1.282},{"n":1921,"v":1.156},{"n":1937,"v":1.216},{"n":1952,"v":1.174},{"n":1968,"v":1.237},{"n":1984,"v":1.192},{"n":1999,"v":1.259}
]},
"layer":[
{"data":{"name":"r"},
"mark":{"type":"point","filled":true,"size":22,"opacity":1,"strokeWidth":0},
"encoding":{
"x":{"field":"n","type":"quantitative","scale":{"domain":[0,2048],"nice":false,"zero":false},"axis":{"orient":"bottom","values":[0,256,512,768,1024,1280,1536,1792,2048],"format":"d","title":"Number of sub-domains","labelPadding":8,"titlePadding":6}},
"y":{"field":"v","type":"quantitative","scale":{"domain":[0.5,3],"nice":false,"zero":false},"axis":{"orient":"left","values":[0.5,1,1.5,2,2.5,3],"format":".1f","title":"Computed domain/Global domain","labelPadding":13,"titlePadding":6}},
"color":{"datum":"Proposed Method","type":"nominal","scale":{"domain":["Proposed Method","Default Decomposition"],"range":["#ff0000","#008000"]},
"legend":{"title":null,"orient":"none","legendX":9,"legendY":10,"direction":"vertical","padding":4,"strokeColor":"black","fillColor":"white","cornerRadius":0,"symbolSize":576,"symbolType":"M-0.36,0a0.11,0.11 0 1,0 0.22,0a0.11,0.11 0 1,0 -0.22,0M0.765,0a0.11,0.11 0 1,0 0.22,0a0.11,0.11 0 1,0 -0.22,0M1.89,0a0.11,0.11 0 1,0 0.22,0a0.11,0.11 0 1,0 -0.22,0","labelFont":"DejaVu Sans","labelFontSize":19.5,"labelColor":"black","labelLimit":400,"labelOffset":35,"rowPadding":6}}
}},
{"data":{"name":"g"},
"mark":{"type":"point","filled":true,"size":10,"opacity":1,"strokeWidth":0},
"encoding":{
"x":{"field":"n","type":"quantitative","axis":{"orient":"top","values":[0,256,512,768,1024,1280,1536,1792,2048],"labels":false,"title":null}},
"y":{"field":"v","type":"quantitative","axis":{"orient":"right","values":[0.5,1,1.5,2,2.5,3],"labels":false,"title":null}},
"color":{"datum":"Default Decomposition","type":"nominal"}
}}
]
}
